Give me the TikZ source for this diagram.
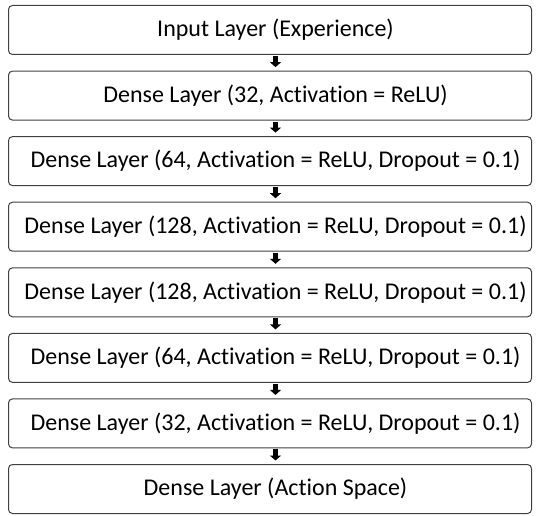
\documentclass[tikz,border=0pt]{standalone}
\usepackage{fontspec}
\setmainfont[RawFeature={-liga}]{Carlito}
\usetikzlibrary{arrows.meta}
\newcommand{\shiftedtext}[1]{\hspace*{11pt}#1}
\begin{document}
\begin{tikzpicture}[x=1pt,y=-1pt,
  layer/.style={draw=black!75, line width=1pt, rounded corners=4pt, minimum width=523pt, minimum height=49pt, inner sep=0pt, font=\fontsize{24}{28}\selectfont, anchor=north west},
  flow/.style={line width=5pt, -{Triangle[width=11pt,length=5pt]}, black}]
\useasboundingbox (0,0) rectangle (538,516);
\node[layer] (l1) at (8,5) {\shiftedtext{Input Layer (Experience)}};
\node[layer] (l2) at (8,70.6) {\shiftedtext{Dense Layer (32, Activation = ReLU)}};
\node[layer] (l3) at (8,136.1) {\shiftedtext{Dense Layer (64, Activation = ReLU, Dropout = 0.1)}};
\node[layer] (l4) at (8,201.7) {\shiftedtext{Dense Layer (128, Activation = ReLU, Dropout = 0.1)}};
\node[layer] (l5) at (8,267.3) {\shiftedtext{Dense Layer (128, Activation = ReLU, Dropout = 0.1)}};
\node[layer] (l6) at (8,332.9) {\shiftedtext{Dense Layer (64, Activation = ReLU, Dropout = 0.1)}};
\node[layer] (l7) at (8,398.4) {\shiftedtext{Dense Layer (32, Activation = ReLU, Dropout = 0.1)}};
\node[layer] (l8) at (8,464) {\shiftedtext{Dense Layer (Action Space)}};
\foreach \a/\b in {l1/l2,l2/l3,l3/l4,l4/l5,l5/l6,l6/l7,l7/l8}{
  \draw[flow] ([xshift=5.5pt,yshift=-1pt]\a.south) -- ([xshift=5.5pt,yshift=3.5pt]\b.north);
}
\end{tikzpicture}
\end{document}
